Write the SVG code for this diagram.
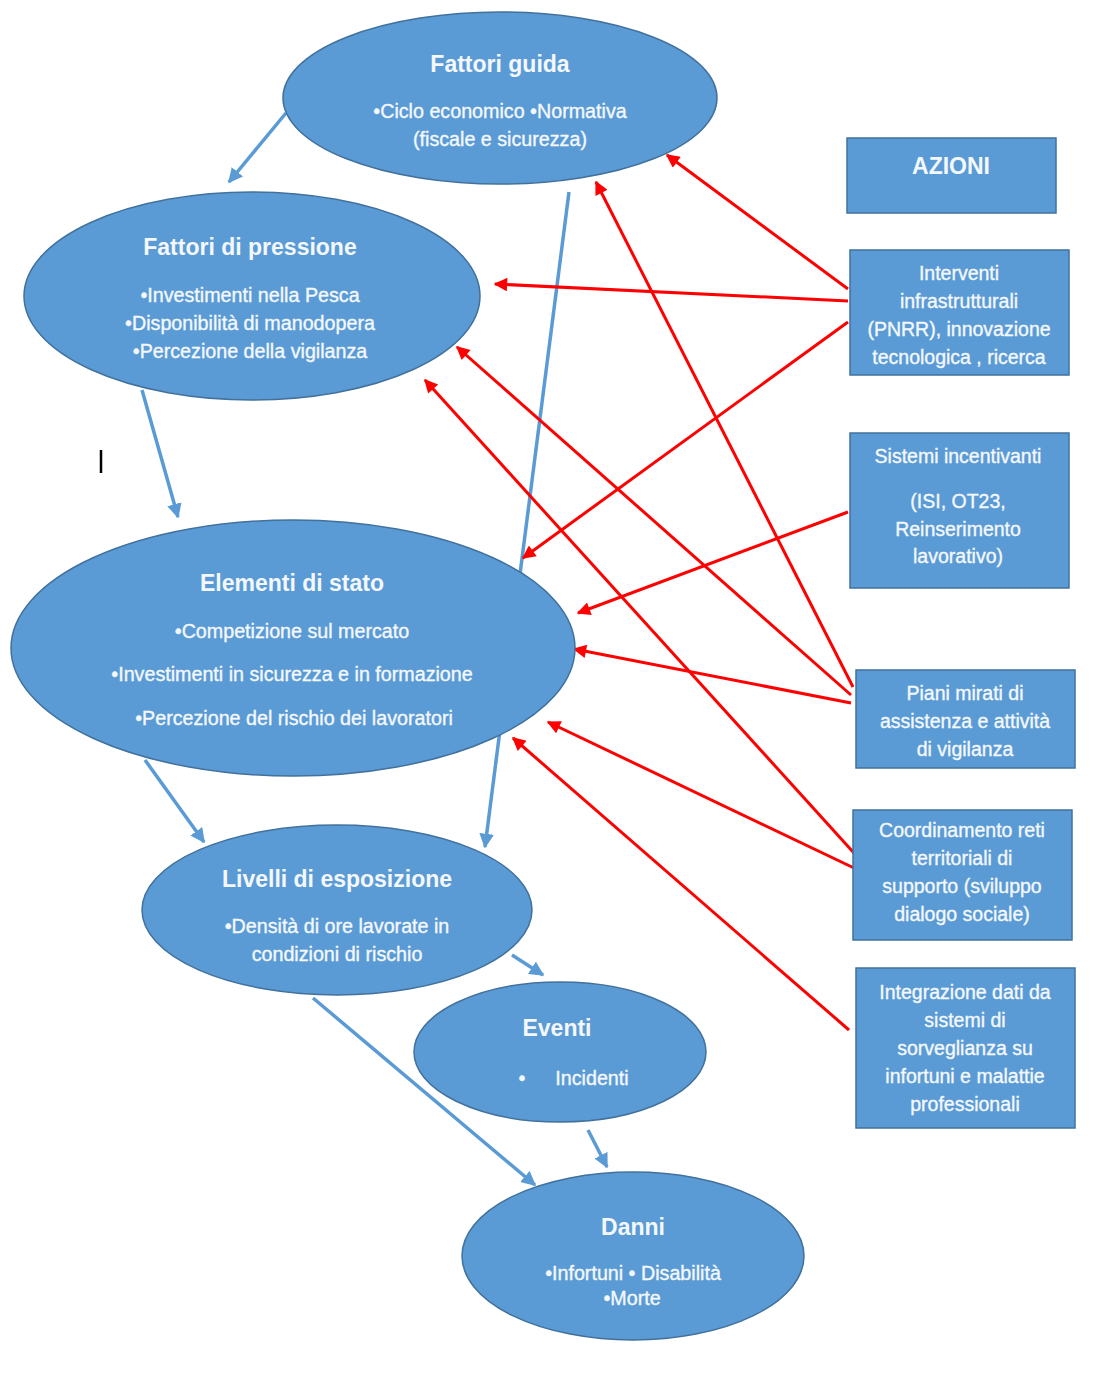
<svg xmlns="http://www.w3.org/2000/svg" width="1118" height="1378" viewBox="0 0 1118 1378">
<defs>
<style>
.node{fill:#5B9BD5;stroke:#41719C;stroke-width:1.5}
.t{font-family:"Liberation Sans",Arial,sans-serif;fill:#F4F8FC;text-anchor:middle}
.h{font-size:23px;font-weight:bold}
.b{font-size:19.7px;stroke:#F4F8FC;stroke-width:0.35}
.bx{font-size:19.5px;stroke:#F4F8FC;stroke-width:0.35}
.blue{stroke:#5B9BD5;stroke-width:3.5;fill:none;marker-end:url(#ab)}
.red{stroke:#FF0000;stroke-width:3;fill:none;marker-end:url(#ar)}
</style>
<marker id="ab" viewBox="0 0 10 10" refX="9" refY="5" markerWidth="4.2" markerHeight="4.2" orient="auto" markerUnits="strokeWidth"><path d="M0,0 L10,5 L0,10 z" fill="#5B9BD5"/></marker>
<marker id="ar" viewBox="0 0 10 10" refX="9" refY="5" markerWidth="5.5" markerHeight="4.5" orient="auto" markerUnits="strokeWidth"><path d="M0,0 L10,5 L0,10 z" fill="#FF0000"/></marker>
</defs>
<rect width="1118" height="1378" fill="#FFFFFF"/>
<g id="connectors">
<path class="blue" d="M286,113 L229,182"/>
<path class="blue" d="M142,390 L178,517"/>
<path class="blue" d="M569,192 L485,847"/>
<path class="blue" d="M145,760 L204,842"/>
<path class="blue" d="M512,955 L543,975"/>
<path class="blue" d="M313,998 L535,1185"/>
<path class="blue" d="M588,1130 L607,1167"/>
<path class="red" d="M848,289 L667,155"/>
<path class="red" d="M848,301 L495,284"/>
<path class="red" d="M848,322 L523,558"/>
<path class="red" d="M848,512 L578,613"/>
<path class="red" d="M853,687 L596,182"/>
<path class="red" d="M851,695 L457,347"/>
<path class="red" d="M851,703 L574,649"/>
<path class="red" d="M854,853 L425,380"/>
<path class="red" d="M854,868 L548,722"/>
<path class="red" d="M849,1030 L513,738"/>
</g>
<g id="fattori-guida">
<ellipse class="node" cx="500" cy="98" rx="217" ry="86"/>
<text class="t h" x="500" y="72">Fattori guida</text>
<text class="t b" x="500" y="118">•Ciclo economico •Normativa</text>
<text class="t b" x="500" y="146">(fiscale e sicurezza)</text>
</g>
<g id="fattori-pressione">
<ellipse class="node" cx="252" cy="296" rx="228" ry="104"/>
<text class="t h" x="250" y="255">Fattori di pressione</text>
<text class="t b" x="250" y="302">•Investimenti nella Pesca</text>
<text class="t b" x="250" y="330">•Disponibilità di manodopera</text>
<text class="t b" x="250" y="358">•Percezione della vigilanza</text>
</g>
<g id="elementi-stato">
<ellipse class="node" cx="293" cy="648" rx="282" ry="128"/>
<text class="t h" x="292" y="591">Elementi di stato</text>
<text class="t b" x="292" y="638">•Competizione sul mercato</text>
<text class="t b" x="292" y="681">•Investimenti in sicurezza e in formazione</text>
<text class="t b" x="294" y="725">•Percezione del rischio dei lavoratori</text>
</g>
<g id="livelli-esposizione">
<ellipse class="node" cx="337" cy="910" rx="195" ry="85"/>
<text class="t h" x="337" y="887">Livelli di esposizione</text>
<text class="t b" x="337" y="933">•Densità di ore lavorate in</text>
<text class="t b" x="337" y="961">condizioni di rischio</text>
</g>
<g id="eventi">
<ellipse class="node" cx="560" cy="1052" rx="146" ry="70"/>
<text class="t h" x="557" y="1036">Eventi</text>
<text class="t b" x="522" y="1085">•</text>
<text class="t b" x="592" y="1085">Incidenti</text>
</g>
<g id="danni">
<ellipse class="node" cx="633" cy="1256" rx="171" ry="84"/>
<text class="t h" x="633" y="1235">Danni</text>
<text class="t b" x="633" y="1280">•Infortuni • Disabilità</text>
<text class="t b" x="632" y="1305">•Morte</text>
</g>
<g id="azioni">
<rect class="node" x="847" y="138" width="209" height="75"/>
<text class="t h" x="951" y="174">AZIONI</text>
</g>
<g id="interventi">
<rect class="node" x="850" y="250" width="219" height="125"/>
<text class="t bx" x="959" y="280">Interventi</text>
<text class="t bx" x="959" y="308">infrastrutturali</text>
<text class="t bx" x="959" y="336">(PNRR), innovazione</text>
<text class="t bx" x="959" y="364">tecnologica , ricerca</text>
</g>
<g id="sistemi">
<rect class="node" x="850" y="433" width="219" height="155"/>
<text class="t bx" x="958" y="463">Sistemi incentivanti</text>
<text class="t bx" x="958" y="508">(ISI, OT23,</text>
<text class="t bx" x="958" y="536">Reinserimento</text>
<text class="t bx" x="958" y="563">lavorativo)</text>
</g>
<g id="piani">
<rect class="node" x="856" y="670" width="219" height="98"/>
<text class="t bx" x="965" y="700">Piani mirati di</text>
<text class="t bx" x="965" y="728">assistenza e attività</text>
<text class="t bx" x="965" y="756">di vigilanza</text>
</g>
<g id="coordinamento">
<rect class="node" x="853" y="810" width="219" height="130"/>
<text class="t bx" x="962" y="837">Coordinamento reti</text>
<text class="t bx" x="962" y="865">territoriali di</text>
<text class="t bx" x="962" y="893">supporto (sviluppo</text>
<text class="t bx" x="962" y="921">dialogo sociale)</text>
</g>
<g id="integrazione">
<rect class="node" x="856" y="968" width="219" height="160"/>
<text class="t bx" x="965" y="999">Integrazione dati da</text>
<text class="t bx" x="965" y="1027">sistemi di</text>
<text class="t bx" x="965" y="1055">sorveglianza su</text>
<text class="t bx" x="965" y="1083">infortuni e malattie</text>
<text class="t bx" x="965" y="1111">professionali</text>
</g>
<line x1="101" y1="450" x2="101" y2="473" stroke="#000000" stroke-width="2.5"/>
</svg>
